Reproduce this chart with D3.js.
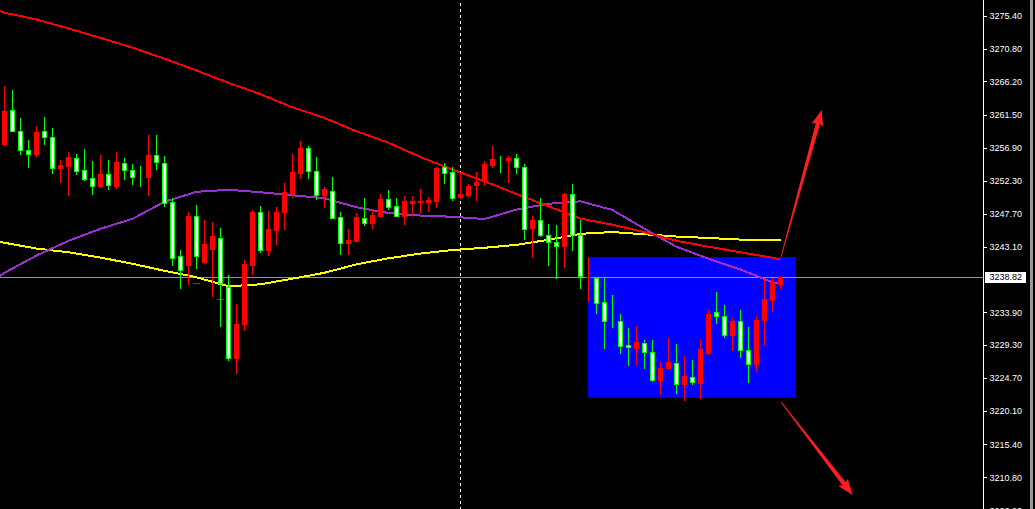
<!DOCTYPE html>
<html>
<head>
<meta charset="utf-8">
<script src="https://cdn.jsdelivr.net/npm/d3@7/dist/d3.min.js"></script>
<style>
  html, body { margin: 0; padding: 0; background: #000; }
  svg { display: block; }
  .tick text { font-family: "Liberation Sans", Arial, sans-serif; font-size: 9px; fill: #fff; }
</style>
</head>
<body>
<svg id="chart" width="1035" height="509"></svg>
<script>
// ---- Candle data (one entry per bar, left to right) ----
const opens = [
  3257.46, 3262.26, 3259.32, 3256.66, 3256.06, 3259.23, 3258.48, 3254.10, 3254.38, 3255.54,
  3253.86, 3252.74, 3251.62, 3253.30, 3251.53, 3254.84, 3253.86, 3252.88, 3252.79, 3255.87,
  3254.84, 3249.38, 3241.82, 3240.47, 3247.42, 3240.94, 3242.76, 3244.34, 3237.43, 3227.54,
  3232.30, 3240.52, 3247.89, 3242.62, 3245.42, 3247.94, 3250.60, 3253.40, 3256.94, 3253.72,
  3250.32, 3250.92, 3247.28, 3243.60, 3243.88, 3247.14, 3246.35, 3247.37, 3249.80, 3248.82,
  3247.37, 3249.20, 3249.29, 3249.34, 3249.48, 3254.19, 3253.49, 3249.99, 3250.27, 3251.67,
  3252.27, 3254.47, 3255.26, 3255.17, 3255.54, 3254.28, 3245.70, 3246.86, 3244.76, 3243.74,
  3243.18, 3250.50, 3244.76, 3238.82, 3238.74, 3235.38, 3232.77, 3232.72, 3229.36, 3228.90,
  3229.64, 3228.38, 3224.42, 3226.05, 3226.84, 3223.86, 3224.88, 3224.00, 3228.15, 3233.89,
  3233.33, 3230.67, 3232.72, 3228.66, 3226.66, 3232.81, 3235.62, 3237.86
];
const highs = [
  3265.53, 3264.97, 3261.05, 3257.97, 3260.02, 3261.19, 3259.65, 3255.17, 3256.29, 3256.01,
  3256.71, 3255.03, 3255.87, 3255.17, 3256.29, 3255.54, 3254.61, 3254.33, 3258.67, 3258.67,
  3255.73, 3249.94, 3242.57, 3247.89, 3248.96, 3246.86, 3246.49, 3245.65, 3239.07, 3235.01,
  3241.17, 3248.17, 3248.73, 3248.03, 3248.59, 3251.95, 3256.01, 3257.83, 3257.13, 3255.59,
  3251.39, 3252.79, 3247.89, 3245.51, 3247.75, 3249.85, 3248.40, 3250.41, 3250.97, 3249.85,
  3250.13, 3250.13, 3251.11, 3249.99, 3254.19, 3254.75, 3254.19, 3253.49, 3251.81, 3253.49,
  3255.00, 3257.13, 3255.73, 3255.73, 3256.01, 3254.61, 3247.33, 3249.85, 3246.21, 3246.07,
  3250.55, 3251.91, 3246.81, 3241.54, 3238.80, 3238.74, 3236.27, 3233.61, 3231.65, 3232.02,
  3229.97, 3229.97, 3226.98, 3230.34, 3229.41, 3227.73, 3227.17, 3229.97, 3234.26, 3236.69,
  3234.87, 3233.05, 3234.26, 3231.79, 3233.33, 3238.65, 3238.74, 3239.02
];
const lows = [
  3257.30, 3259.20, 3256.00, 3254.24, 3255.78, 3257.46, 3253.40, 3252.14, 3250.27, 3253.30,
  3252.37, 3250.50, 3251.44, 3251.16, 3251.35, 3252.56, 3251.86, 3251.53, 3250.27, 3253.91,
  3248.73, 3240.47, 3237.30, 3237.90, 3240.14, 3240.80, 3236.18, 3231.97, 3227.26, 3225.39,
  3231.46, 3239.21, 3242.34, 3241.87, 3243.46, 3245.56, 3250.04, 3252.70, 3252.70, 3249.80,
  3248.64, 3247.10, 3242.06, 3242.06, 3243.83, 3246.07, 3245.70, 3247.33, 3248.31, 3247.37,
  3246.26, 3247.52, 3247.75, 3248.03, 3248.59, 3251.95, 3249.57, 3249.90, 3249.99, 3249.57,
  3251.67, 3254.24, 3253.49, 3252.14, 3253.40, 3244.20, 3241.64, 3244.53, 3240.52, 3238.74,
  3240.24, 3242.57, 3237.30, 3235.47, 3233.80, 3228.90, 3231.84, 3228.20, 3226.47, 3226.66,
  3226.10, 3224.28, 3222.46, 3225.91, 3222.60, 3221.62, 3223.86, 3221.90, 3228.06, 3232.40,
  3230.44, 3228.62, 3227.64, 3224.14, 3225.68, 3229.32, 3234.08, 3237.34
];
const closes = [
  3262.03, 3259.32, 3256.66, 3256.10, 3259.09, 3258.44, 3254.14, 3254.47, 3255.59, 3253.72,
  3252.60, 3251.62, 3253.30, 3251.72, 3254.89, 3253.86, 3252.88, 3252.88, 3255.87, 3254.94,
  3249.20, 3241.54, 3239.86, 3247.33, 3241.82, 3243.41, 3244.53, 3238.04, 3227.54, 3232.30,
  3240.61, 3247.89, 3242.66, 3245.51, 3247.89, 3250.69, 3253.49, 3256.94, 3253.72, 3250.36,
  3251.11, 3247.14, 3243.64, 3243.97, 3247.19, 3246.44, 3247.47, 3249.71, 3248.68, 3247.37,
  3249.43, 3249.48, 3249.48, 3249.62, 3254.05, 3253.40, 3249.85, 3250.41, 3251.53, 3252.09,
  3254.61, 3255.31, 3255.26, 3255.45, 3254.28, 3245.60, 3246.86, 3244.76, 3243.78, 3243.22,
  3250.50, 3244.76, 3239.02, 3238.90, 3235.24, 3232.68, 3232.77, 3229.22, 3229.08, 3229.69,
  3228.38, 3224.46, 3226.14, 3226.89, 3223.90, 3224.93, 3224.18, 3228.71, 3233.70, 3233.38,
  3230.72, 3232.63, 3228.66, 3226.70, 3232.86, 3235.80, 3238.09, 3238.82
];

// ---- Moving averages, sampled at these bar indices ----
const maIndex = [-1, 0, 4, 8, 12, 16, 20, 24, 28, 32, 36, 40, 44, 48, 52, 56, 60, 64, 68, 72, 76, 80, 84, 88, 92, 96, 97];
const maRed = [
  3276.21, 3275.82, 3274.87, 3273.61, 3272.29, 3270.92, 3269.38, 3267.73, 3266.00, 3264.41,
  3262.56, 3261.08, 3259.23, 3257.62, 3255.62, 3253.84, 3252.23, 3250.45, 3248.73, 3246.99,
  3246.15, 3245.10, 3243.90, 3243.07, 3242.29, 3241.52, 3241.27
];
const maPurple = [
  3238.66, 3239.42, 3241.84, 3243.90, 3245.58, 3246.98, 3249.36, 3250.76, 3251.04, 3250.69,
  3250.27, 3249.85, 3248.59, 3247.78, 3247.43, 3247.26, 3246.94, 3248.27, 3249.08, 3249.42,
  3248.21, 3245.58, 3243.06, 3241.38, 3239.88, 3238.09, 3237.88
];
const maYellow = [
  3243.83, 3243.62, 3242.81, 3242.29, 3241.55, 3240.68, 3239.70, 3238.79, 3237.53, 3237.81,
  3238.60, 3239.42, 3240.61, 3241.45, 3242.11, 3242.61, 3242.92, 3243.33, 3244.04, 3244.88,
  3245.12, 3244.81, 3244.49, 3244.29, 3244.07, 3244.07, 3244.07
];

// ---- Price axis labels ----
const tickValues = [3275.40, 3270.80, 3266.20, 3261.50, 3256.90, 3252.30, 3247.70, 3243.10,
  3233.90, 3229.30, 3224.70, 3220.10, 3215.40, 3210.80, 3206.20];
const currentPrice = 3238.82;

// ---- Annotations (bar index / price) ----
const zoneBox = { i0: 72.94, i1: 98.94, top: 3241.63, bottom: 3221.94 };
const arrows = [
  { i0: 97.06, p0: 3241.63, i1: 102.15, p1: 3262.20 },
  { i0: 97.06, p0: 3221.34, i1: 106.03, p1: 3208.32 }
];
const dashMarks = [ { i: 24, p: 3237.95 }, { i: 27, p: 3235.71 } ];
const cursorIndex = 57;

// ---- Layout ----
const W = 1035, H = 509, axisX = 983.5;
const svg = d3.select("#chart");

const x = d3.scaleLinear().domain([0, 97]).range([4.5, 4.5 + 8 * 97]);
const y = d3.scaleLinear().domain([3210.80, 3275.40]).range([477.3, 15.7]);

svg.append("rect").attr("width", W).attr("height", H).attr("fill", "#000");

// shaded zone
svg.append("rect")
  .attr("x", x(zoneBox.i0)).attr("y", y(zoneBox.top))
  .attr("width", x(zoneBox.i1) - x(zoneBox.i0))
  .attr("height", y(zoneBox.bottom) - y(zoneBox.top))
  .attr("fill", "#0000ff");

// vertical dashed cursor line
svg.append("line")
  .attr("x1", Math.floor(x(cursorIndex)) + 0.5).attr("x2", Math.floor(x(cursorIndex)) + 0.5)
  .attr("y1", 0).attr("y2", H)
  .attr("stroke", "#fff").attr("stroke-width", 1)
  .attr("stroke-dasharray", "3,3").attr("stroke-dashoffset", -3)
  .attr("shape-rendering", "crispEdges");

// current price line
const yCur = Math.round(y(currentPrice)) + 0.5;
svg.append("line")
  .attr("x1", 0).attr("x2", axisX).attr("y1", yCur).attr("y2", yCur)
  .attr("stroke", "#8a96a2").attr("stroke-width", 1)
  .attr("shape-rendering", "crispEdges");

// moving averages
const maLine = d3.line().x((d, k) => x(maIndex[k])).y(d => y(d));
[[maYellow, "#ffff00"], [maPurple, "#9932cc"], [maRed, "#ff0000"]].forEach(([vals, col]) => {
  svg.append("path").datum(vals)
    .attr("d", maLine)
    .attr("fill", "none").attr("stroke", col).attr("stroke-width", 2)
    .attr("shape-rendering", "crispEdges");
});

// small red markers
svg.selectAll(".dm").data(dashMarks).enter().append("line")
  .attr("x1", d => x(d.i) - 3.5).attr("x2", d => x(d.i) + 3.5)
  .attr("y1", d => Math.round(y(d.p)) + 0.5).attr("y2", d => Math.round(y(d.p)) + 0.5)
  .attr("stroke", "#ff0000").attr("stroke-width", 1).attr("shape-rendering", "crispEdges");

// candles
const bars = d3.range(opens.length).map(i => ({
  i, o: opens[i], h: highs[i], l: lows[i], c: closes[i], up: closes[i] > opens[i]
}));
const cg = svg.append("g").attr("shape-rendering", "crispEdges");
const candle = cg.selectAll("g").data(bars).enter().append("g");
candle.append("line")
  .attr("x1", d => x(d.i)).attr("x2", d => x(d.i))
  .attr("y1", d => Math.round(y(d.h))).attr("y2", d => Math.round(y(d.l)) + 1)
  .attr("stroke", d => d.up ? "#ff0000" : "#00ff00").attr("stroke-width", 1);
candle.each(function(d) {
  const g = d3.select(this);
  const yt = Math.round(y(Math.max(d.o, d.c)));
  const yb = Math.round(y(Math.min(d.o, d.c)));
  if (d.up) {
    g.append("rect")
      .attr("x", x(d.i) - 2.5).attr("width", 5)
      .attr("y", yt).attr("height", Math.max(1, yb - yt + 1))
      .attr("fill", "#ff0000");
  } else {
    g.append("rect")
      .attr("x", x(d.i) - 2).attr("width", 4)
      .attr("y", yt + 0.5).attr("height", Math.max(0, yb - yt))
      .attr("fill", "#ffffff").attr("stroke", "#00ff00").attr("stroke-width", 1);
  }
});

// arrows
function arrowPath(a) {
  const x0 = x(a.i0), y0 = y(a.p0), x1 = x(a.i1), y1 = y(a.p1);
  const dx = x1 - x0, dy = y1 - y0, L = Math.hypot(dx, dy);
  const ux = dx / L, uy = dy / L, nx = -uy, ny = ux;
  const hl = 14, hw = 6, w0 = 0.4, w1 = 2.2;
  const bx = x1 - ux * hl, by = y1 - uy * hl;
  const pts = [
    [x0 + nx * w0, y0 + ny * w0],
    [bx + nx * w1, by + ny * w1],
    [bx + nx * hw - ux * 2, by + ny * hw - uy * 2],
    [x1, y1],
    [bx - nx * hw - ux * 2, by - ny * hw - uy * 2],
    [bx - nx * w1, by - ny * w1],
    [x0 - nx * w0, y0 - ny * w0]
  ];
  return "M" + pts.map(p => p.join(",")).join("L") + "Z";
}
svg.selectAll(".arrow").data(arrows).enter().append("path")
  .attr("d", arrowPath).attr("fill", "#ff1e1e");

// price axis
svg.append("line")
  .attr("x1", axisX).attr("x2", axisX).attr("y1", 0).attr("y2", H)
  .attr("stroke", "#ffffff").attr("stroke-width", 1).attr("shape-rendering", "crispEdges");
const axis = d3.axisRight(y).tickValues(tickValues).tickFormat(d3.format(".2f"))
  .tickSize(3).tickPadding(3);
const ag = svg.append("g").attr("transform", `translate(${axisX},0)`).call(axis);
ag.select(".domain").remove();
ag.selectAll(".tick line").attr("stroke", "#ffffff").attr("shape-rendering", "crispEdges");

// current price tag
svg.append("rect")
  .attr("x", 985).attr("y", Math.round(y(currentPrice)) - 5)
  .attr("width", 41).attr("height", 11).attr("fill", "#ffffff");
svg.append("text")
  .attr("x", axisX + 6).attr("y", y(currentPrice)).attr("dy", "0.32em")
  .attr("font-family", "Liberation Sans, Arial, sans-serif").attr("font-size", "9px")
  .attr("fill", "#000").text(d3.format(".2f")(currentPrice));

// window edge
svg.append("rect").attr("x", 1030).attr("y", 0).attr("width", 3).attr("height", H)
  .attr("fill", "#9a9a9a");
</script>
</body>
</html>
